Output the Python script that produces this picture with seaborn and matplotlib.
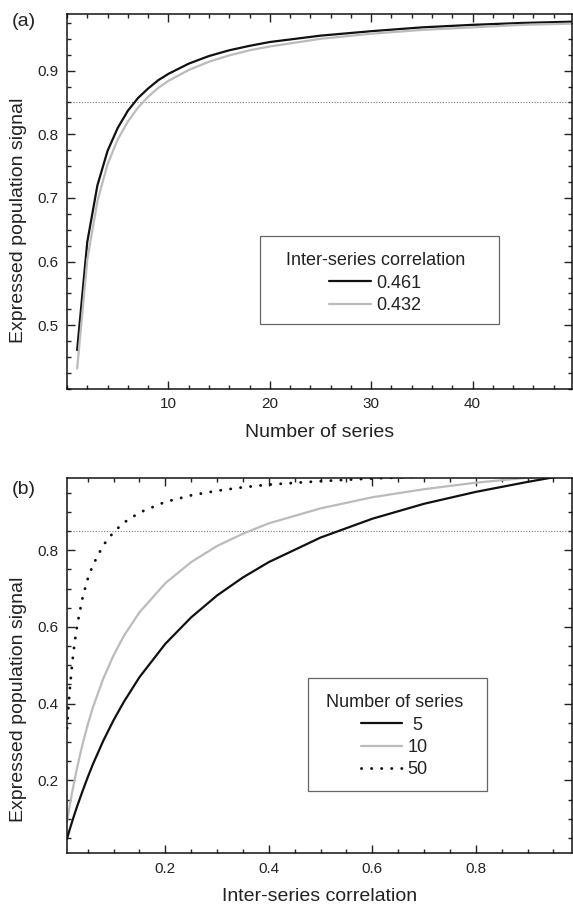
import matplotlib
matplotlib.use("Agg")
import matplotlib.pyplot as plt
from matplotlib.patches import Rectangle
from matplotlib.ticker import MultipleLocator
import seaborn as sns
import pandas as pd

# Panel (a): expressed population signal vs. number of series
n_series = [1, 2, 3, 4, 5, 6, 7, 8, 9, 10, 12, 14, 16, 18, 20, 25, 30, 35, 40, 45, 50]
eps_r0461 = [0.461, 0.631, 0.720, 0.774, 0.810, 0.837, 0.857, 0.872, 0.885, 0.895,
             0.911, 0.923, 0.932, 0.939, 0.945, 0.955, 0.962, 0.968, 0.972, 0.975, 0.977]
eps_r0432 = [0.432, 0.603, 0.695, 0.753, 0.792, 0.820, 0.842, 0.859, 0.873, 0.884,
             0.901, 0.914, 0.924, 0.932, 0.938, 0.950, 0.958, 0.964, 0.968, 0.972, 0.974]
corr_labels = ["0.461", "0.432"]

# Panel (b): expressed population signal vs. inter-series correlation
rbar = [0.01, 0.015, 0.02, 0.025, 0.03, 0.04, 0.05, 0.06, 0.08, 0.10, 0.12, 0.15,
        0.20, 0.25, 0.30, 0.35, 0.40, 0.50, 0.60, 0.70, 0.80, 0.90, 0.95, 0.99]
eps_n5 = [0.048, 0.071, 0.093, 0.114, 0.134, 0.172, 0.208, 0.242, 0.303, 0.357, 0.405, 0.469,
          0.556, 0.625, 0.682, 0.729, 0.769, 0.833, 0.882, 0.921, 0.952, 0.978, 0.990, 0.998]
eps_n10 = [0.092, 0.132, 0.169, 0.204, 0.236, 0.294, 0.345, 0.390, 0.465, 0.526, 0.577, 0.638,
           0.714, 0.769, 0.811, 0.843, 0.870, 0.909, 0.938, 0.959, 0.976, 0.989, 0.995, 0.999]
eps_n50 = [0.336, 0.432, 0.505, 0.562, 0.607, 0.676, 0.725, 0.761, 0.813, 0.847, 0.872, 0.898,
           0.926, 0.943, 0.955, 0.964, 0.971, 0.980, 0.987, 0.992, 0.995, 0.998, 0.999, 1.000]
nser_labels = [" 5", "10", "50"]

eps_threshold = 0.85

sns.set_theme(style="ticks")
plt.rcParams["font.family"] = ["Liberation Sans", "DejaVu Sans"]
plt.rcParams["text.color"] = "#222222"
plt.rcParams["axes.labelcolor"] = "#222222"
plt.rcParams["xtick.color"] = "#222222"
plt.rcParams["ytick.color"] = "#222222"

fig = plt.figure(figsize=(5.73, 9.06), dpi=100)
W, H = 573, 906
ax_a = fig.add_axes([67 / W, 1 - 389 / H, 505 / W, 375 / H])
ax_b = fig.add_axes([67 / W, 1 - 853.3 / H, 505 / W, 375.6 / H])

BLACK = "#111111"
GREY = "#bbbbbb"
DOTS = (0, (0.05, 3.4))

df_a = pd.DataFrame({"n": n_series * 2,
                     "eps": eps_r0461 + eps_r0432,
                     "corr": [corr_labels[0]] * len(n_series) + [corr_labels[1]] * len(n_series)})
for lab, col in zip(corr_labels, [BLACK, GREY]):
    sns.lineplot(data=df_a[df_a["corr"] == lab], x="n", y="eps", ax=ax_a,
                 color=col, lw=1.6, label=lab, legend=False)

df_b = pd.DataFrame({"r": rbar * 3,
                     "eps": eps_n5 + eps_n10 + eps_n50,
                     "nser": sum([[l] * len(rbar) for l in nser_labels], [])})
for lab, col in zip(nser_labels, [BLACK, GREY, BLACK]):
    sns.lineplot(data=df_b[df_b["nser"] == lab], x="r", y="eps", ax=ax_b,
                 color=col, lw=1.6, label=lab, legend=False)
dotted = ax_b.lines[-1]
dotted.set_linestyle(DOTS)
dotted.set_linewidth(2.1)
dotted.set_dash_capstyle("round")

for ax in (ax_a, ax_b):
    ax.axhline(eps_threshold, xmin=0.012, xmax=1, color="#777777", lw=0.8,
               ls=(0, (1, 1.5)), zorder=1)
    for s in ax.spines.values():
        s.set_linewidth(1.1)
        s.set_color("#111111")
        s.set_visible(True)
    ax.tick_params(which="both", direction="in", top=True, right=True, width=1.0,
                   labelsize=11)
    ax.tick_params(which="major", length=6)
    ax.tick_params(which="minor", length=3)
    ax.tick_params(axis="y", pad=6)
    ax.tick_params(axis="x", pad=6)

ax_a.set_xlim(0, 49.8)
ax_a.set_ylim(0.40, 0.989)
ax_a.xaxis.set_minor_locator(MultipleLocator(2))
ax_a.yaxis.set_minor_locator(MultipleLocator(0.025))
ax_a.set_xticks([10, 20, 30, 40])
ax_a.set_yticks([0.5, 0.6, 0.7, 0.8, 0.9])
ax_a.set_yticklabels(["0.5", "0.6", "0.7", "0.8", "0.9"])

ax_b.set_xlim(0.01, 0.986)
ax_b.set_ylim(0.01, 0.989)
ax_b.xaxis.set_minor_locator(MultipleLocator(0.05))
ax_b.yaxis.set_minor_locator(MultipleLocator(0.05))
ax_b.set_xticks([0.2, 0.4, 0.6, 0.8])
ax_b.set_xticklabels(["0.2", "0.4", "0.6", "0.8"])
ax_b.set_yticks([0.2, 0.4, 0.6, 0.8])
ax_b.set_yticklabels(["0.2", "0.4", "0.6", "0.8"])

ax_a.set_xlabel("Number of series", fontsize=14)
ax_b.set_xlabel("Inter-series correlation", fontsize=14)
for ax, yc in ((ax_a, 0.449), (ax_b, 0.411)):
    ax.set_ylabel("Expressed population signal", fontsize=14)
    ax.yaxis.set_label_coords(-0.097, yc)
    ax.yaxis.label.set_verticalalignment("center")
    ax.xaxis.set_label_coords(0.5, -0.115)
    ax.xaxis.label.set_verticalalignment("center")

leg_kw = dict(fontsize=13, title_fontsize=13, frameon=False, handlelength=2.3,
              handletextpad=0.3, labelspacing=0.3, borderaxespad=0, borderpad=0.9,
              loc="upper center")


def boxed_legend(ax, title, x0, y0, w, h, shift):
    leg = ax.legend(title=title, bbox_to_anchor=(x0 + w / 2 + shift, y0 + h), **leg_kw)
    ax.add_patch(Rectangle((x0, y0), w, h, transform=ax.transAxes, fill=False,
                           edgecolor="#666666", lw=0.9, zorder=5))
    return leg


boxed_legend(ax_a, "Inter-series correlation", 0.382, 0.173, 0.473, 0.235, -0.008)
leg_b = boxed_legend(ax_b, "Number of series", 0.477, 0.166, 0.354, 0.301, -0.006)
leg_b.get_lines()[2].set_linestyle(DOTS)
leg_b.get_lines()[2].set_linewidth(2.1)
leg_b.get_lines()[2].set_dash_capstyle("round")

fig.text(12 / W, 1 - 22 / H, "(a)", fontsize=14, va="center", ha="left")
fig.text(12 / W, 1 - 490 / H, "(b)", fontsize=14, va="center", ha="left")

fig.savefig("out.png", dpi=100)
